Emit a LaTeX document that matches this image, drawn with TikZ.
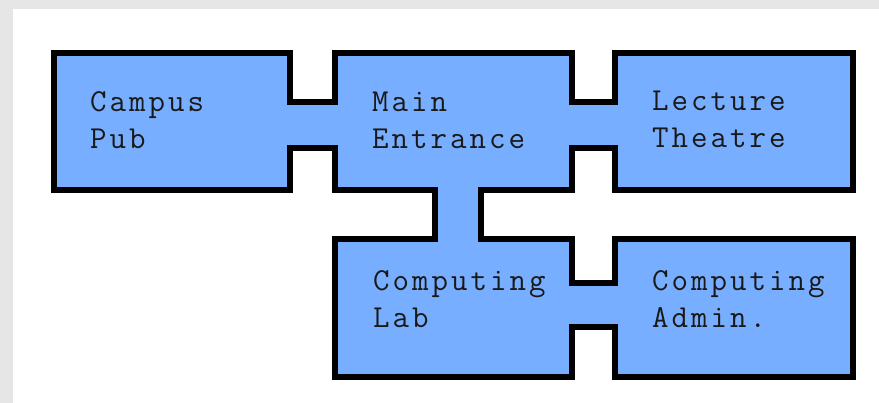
\documentclass[tikz,border=0pt]{standalone}
\usepackage{fontspec}
\setmonofont{Latin Modern Mono}[LetterSpace=9.4]
\definecolor{roomblue}{RGB}{120,174,255}
\definecolor{framegray}{RGB}{230,230,230}
\definecolor{labelink}{RGB}{25,25,25}
\begin{document}
\begin{tikzpicture}[x=1pt,y=-1pt,
  wall/.style={draw=black,line width=5.5pt,fill=roomblue,line join=miter},
  roomlabel/.style={font=\ttfamily\fontsize{32}{37}\selectfont,text=labelink,
    align=left,anchor=base west,inner sep=0pt}]
  % page frame: grey strip at the top and left, white sheet behind the plan
  \fill[framegray] (0,0) rectangle (879,403);
  \fill[white] (13,9) rectangle (879,403);
  \useasboundingbox (0,0) rectangle (879,403);

  % outline of all rooms joined by their corridors
  \draw[wall]
    (54,53) -- (290,53) -- (290,102) -- (335,102) -- (335,53)
    -- (572,53) -- (572,102) -- (615,102) -- (615,53)
    -- (853,53) -- (853,190) -- (615,190) -- (615,148) -- (572,148)
    -- (572,190) -- (481,190) -- (481,239) -- (572,239) -- (572,283)
    -- (615,283) -- (615,239) -- (853,239) -- (853,377) -- (615,377)
    -- (615,327) -- (572,327) -- (572,377) -- (335,377) -- (335,239)
    -- (435,239) -- (435,190) -- (335,190) -- (335,148) -- (290,148)
    -- (290,190) -- (54,190) -- cycle;

  % room names (anchored on the baseline of the second line)
  \node[roomlabel] (pub)     at (90,148.5)  {Campus\\Pub};
  \node[roomlabel] (main)    at (372,148.5) {Main\\Entrance};
  \node[roomlabel] (lecture) at (652,147.5) {Lecture\\Theatre};
  \node[roomlabel] (lab)     at (373,327.5) {Computing\\Lab};
  \node[roomlabel] (admin)   at (652,328)   {Computing\\Admin.};
\end{tikzpicture}
\end{document}
